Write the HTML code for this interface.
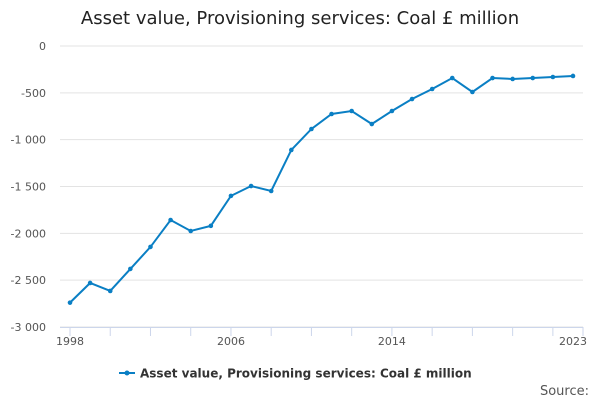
<!DOCTYPE html>
<html><head><meta charset="utf-8"><style>
body{margin:0;background:#fff;font-family:"Liberation Sans","DejaVu Sans",sans-serif}
svg text{font-family:"DejaVu Sans","Liberation Sans",sans-serif}
</style></head><body>
<svg width="600" height="400" xmlns="http://www.w3.org/2000/svg">
<text x="300" y="24" text-anchor="middle" font-size="18" fill="#222">Asset value, Provisioning services: Coal £ million</text>
<g id="grid"></g>
<g id="yt"></g>
<g id="xt"></g>
<g id="series"></g>
<g>
<line x1="119" y1="373" x2="135" y2="373" stroke="#0a7fc4" stroke-width="2"/>
<circle cx="127" cy="373" r="2.5" fill="#0a7fc4"/>
<text x="140" y="377.5" font-size="12" font-weight="bold" fill="#333">Asset value, Provisioning services: Coal £ million</text>
</g>
<text x="589" y="395" text-anchor="end" font-size="13" fill="#555">Source:</text>
</svg>
<script>
const years=[1998,1999,2000,2001,2002,2003,2004,2005,2006,2007,2008,2009,2010,2011,2012,2013,2014,2015,2016,2017,2018,2019,2020,2021,2022,2023];
const values=[-2740,-2530,-2615,-2380,-2145,-1858,-1975,-1920,-1600,-1495,-1548,-1110,-886,-726,-694,-833,-694,-566,-459,-342,-491,-342,-352,-342,-331,-320];
const yTicks=[0,-500,-1000,-1500,-2000,-2500,-3000];
const yTickLabels=["0","-500","-1 000","-1 500","-2 000","-2 500","-3 000"];
const xLabels=[1998,2006,2014,2023];
const NS="http://www.w3.org/2000/svg";
const X=y=>70+(y-1998)*(503/25);
const Y=v=>46+(v/-3000)*281;
function mk(t,a,p){const e=document.createElementNS(NS,t);for(const k in a)e.setAttribute(k,a[k]);p.appendChild(e);return e;}
const grid=document.getElementById('grid'),yt=document.getElementById('yt'),xt=document.getElementById('xt'),s=document.getElementById('series');
yTicks.forEach((v,i)=>{
 const l=mk('line',{x1:60,x2:583,y1:Y(v),y2:Y(v),stroke:'#e3e3e3','stroke-width':1},grid);
 
 
 const t=mk('text',{x:46,y:Y(v)+4,'text-anchor':'end','font-size':11,fill:'#555'},yt);
 t.textContent=yTickLabels[i];
 
 
});
mk('line',{x1:60,x2:583,y1:327.5,y2:327.5,stroke:'#ccd6eb'},xt);
for(let y=1998;y<=2023;y+=2){mk('line',{x1:X(y),x2:X(y),y1:327,y2:336,stroke:'#ccd6eb'},xt);}
mk('line',{x1:583,x2:583,y1:327,y2:336,stroke:'#ccd6eb'},xt);
xLabels.forEach(y=>{
 const t=mk('text',{x:X(y),y:345,'text-anchor':'middle','font-size':11,fill:'#555'},xt);
 t.textContent=y;
 
 
});
const line=mk('polyline',{points:years.map((y,i)=>X(y)+','+Y(values[i])).join(' '),fill:'none',stroke:'#0a7fc4','stroke-width':2},s);


years.forEach((y,i)=>{
 const c=mk('circle',{cx:X(y),cy:Y(values[i]),r:2.3,fill:'#0a7fc4'},s);
 
 
});
</script>
</body></html>
